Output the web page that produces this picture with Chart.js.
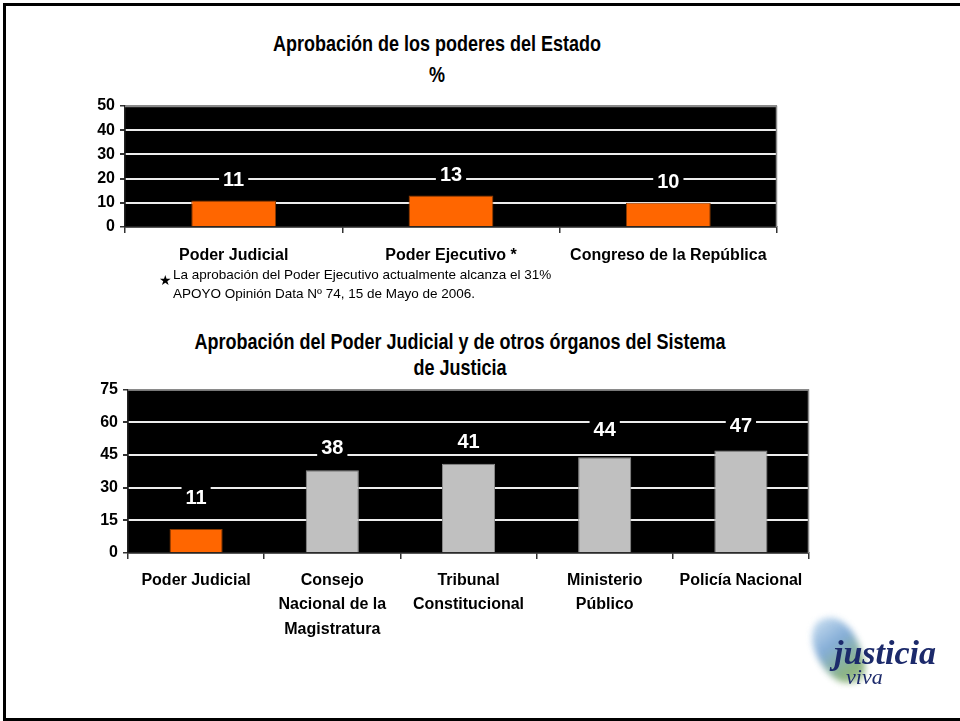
<!DOCTYPE html>
<html>
<head>
<meta charset="utf-8">
<script src="https://cdn.jsdelivr.net/npm/chart.js@4.4.0/dist/chart.umd.min.js"></script>
<style>
  html, body { margin: 0; padding: 0; background: #fff; }
  body { width: 960px; height: 721px; position: relative; overflow: hidden; }
  .bold { font-family: 'Liberation Sans', Arial, sans-serif; font-weight: bold; color: #000; }
  .frame { position: absolute; left: 3px; top: 3px; width: 957px; height: 712px; border: 3px solid #000; box-sizing: content-box; border-right: none; }
  .t { position: absolute; text-align: center; white-space: nowrap; line-height: 20px; transform: scale(1, 1.18); }
  .note { position: absolute; font-family: 'Liberation Sans', Arial, sans-serif; font-size: 13.5px; color: #000; line-height: 19px; }
  canvas { position: absolute; }
</style>
</head>
<body>
<div class="frame"></div>

<div class="t bold" id="title1a" style="left:237px; width:400px; top:34px; font-size:18px;"></div>
<div class="t bold" id="title1b" style="left:237px; width:400px; top:65px; font-size:18px;"></div>

<canvas id="c1" width="740" height="185" style="left:60px; top:90px;"></canvas>

<div class="note" style="left:159px; top:265px;"><span style="font-size:14px; position:absolute; left:0; top:6px;">&#9733;</span><div id="note" style="margin-left:14px;"></div></div>

<div class="t bold" id="title2a" style="left:160px; width:600px; top:332px; font-size:18px;"></div>
<div class="t bold" id="title2b" style="left:160px; width:600px; top:358px; font-size:18px;"></div>

<canvas id="c2" width="780" height="290" style="left:60px; top:375px;"></canvas>

<!-- logo -->
<div style="position:absolute; left:806px; top:612px; width:150px; height:85px;">
  <div style="position:absolute; left:10px; top:4px; width:44px; height:70px; border-radius:40% 60% 30% 70%; background: linear-gradient(160deg, #c4dcf0 0%, #6f9fd0 40%, #7aa86a 80%, #a4c498 100%); filter: blur(3px); transform: rotate(-18deg); opacity:0.85;"></div>
  <div style="position:absolute; left:28px; top:24px; font-family:'Liberation Serif','DejaVu Serif',serif; font-style:italic; font-weight:bold; font-size:34px; color:#1c2a6b; line-height:34px;">justicia</div>
  <div style="position:absolute; left:40px; top:54px; font-family:'Liberation Serif','DejaVu Serif',serif; font-style:italic; font-size:22px; color:#1c2a6b; line-height:22px;">viva</div>
</div>

<script>
// ---------- data ----------
const titleTop = 'Aprobación de los poderes del Estado';
const subtitleTop = '%';
const catsTop = ['Poder Judicial', 'Poder Ejecutivo *', 'Congreso de la República'];
const valsTop = [11, 13, 10];
const ticksTop = [0, 10, 20, 30, 40, 50];

const noteLines = ['La aprobación del Poder Ejecutivo actualmente alcanza el 31%',
                   'APOYO Opinión Data Nº 74, 15 de Mayo de 2006.'];

const titleBottom = ['Aprobación del Poder Judicial y de otros órganos del Sistema', 'de Justicia'];
const catsBottom = ['Poder Judicial', ['Consejo', 'Nacional de la', 'Magistratura'],
                    ['Tribunal', 'Constitucional'], ['Ministerio', 'Público'], 'Policía Nacional'];
const valsBottom = [11, 38, 41, 44, 47];
const ticksBottom = [0, 15, 30, 45, 60, 75];

// ---------- text ----------
document.getElementById('title1a').textContent = titleTop;
document.getElementById('title1b').textContent = subtitleTop;
document.getElementById('note').innerHTML = noteLines.join('<br>');
document.getElementById('title2a').textContent = titleBottom[0];
document.getElementById('title2b').textContent = titleBottom[1];

// ---------- styles ----------
const FONT = "'Liberation Sans', Arial, sans-serif";
const ORANGE = '#FF6600', ORANGE_B = '#8a3a00';
const GRAY = '#C0C0C0', GRAY_B = '#8c8c8c';

const plotBg = {
  id: 'plotBg',
  beforeDraw(chart) {
    const { ctx, chartArea: a } = chart;
    ctx.save();
    ctx.fillStyle = '#000';
    ctx.fillRect(a.left, a.top, a.right - a.left, a.bottom - a.top);
    ctx.restore();
  },
  afterDraw(chart) {
    const { ctx, chartArea: a } = chart;
    ctx.save();
    ctx.strokeStyle = '#8a8a8a';
    ctx.lineWidth = 1.5;
    ctx.beginPath();
    ctx.moveTo(a.left, a.top + 0.5);
    ctx.lineTo(a.right - 0.5, a.top + 0.5);
    ctx.lineTo(a.right - 0.5, a.bottom);
    ctx.stroke();
    ctx.restore();
  }
};

const valueLabels = {
  id: 'valueLabels',
  afterDatasetsDraw(chart, args, opts) {
    const { ctx } = chart;
    const meta = chart.getDatasetMeta(0);
    const data = chart.data.datasets[0].data;
    ctx.save();
    ctx.font = 'bold ' + opts.size + 'px ' + FONT;
    ctx.textAlign = 'center';
    ctx.textBaseline = 'middle';
    meta.data.forEach((bar, i) => {
      const txt = String(data[i]);
      const off = Array.isArray(opts.offset) ? opts.offset[i] : opts.offset;
      const y = bar.y - off;
      const w = ctx.measureText(txt).width + 8;
      const h = opts.size + 2;
      ctx.fillStyle = '#000';
      ctx.fillRect(bar.x - w / 2, y - h / 2, w, h);
      ctx.fillStyle = '#fff';
      ctx.fillText(txt, bar.x, y + 1);
    });
    ctx.restore();
  }
};

function makeChart(id, cats, vals, ticks, colors, borders, layout, labelOpts) {
  const max = ticks[ticks.length - 1];
  const step = ticks[1] - ticks[0];
  return new Chart(document.getElementById(id), {
    type: 'bar',
    data: {
      labels: cats,
      datasets: [{
        data: vals,
        backgroundColor: colors,
        borderColor: borders,
        borderWidth: 1,
        borderSkipped: 'bottom',
        categoryPercentage: 1,
        barPercentage: 0.39
      }]
    },
    options: {
      responsive: false,
      animation: false,
      devicePixelRatio: 1,
      layout: { padding: layout.padding },
      plugins: {
        legend: { display: false },
        tooltip: { enabled: false },
        title: { display: false },
        valueLabels: labelOpts
      },
      scales: {
        x: {
          grid: { display: true, drawOnChartArea: false, drawTicks: true, tickLength: 6, tickColor: '#333', offset: true, lineWidth: 1.5 },
          border: { display: true, color: '#222', width: 1.5 },
          ticks: {
            color: '#000',
            padding: layout.xPad,
            maxRotation: 0, autoSkip: false,
            font: { family: FONT, weight: 'bold', size: layout.xFont, lineHeight: layout.xLine }
          },
          afterFit(s) { s.height = layout.xHeight; }
        },
        y: {
          min: 0, max: max,
          afterBuildTicks(s) { s.ticks = ticks.map(v => ({ value: v })); },
          ticks: {
            autoSkip: false,
            color: '#000',
            padding: 5,
            font: { family: FONT, weight: 'bold', size: layout.yFont }
          },
          grid: {
            color: c => c.tick.value === 0 ? '#222' : (c.tick.value === max ? '#8a8a8a' : '#ececec'),
            lineWidth: c => c.tick.value === 0 || c.tick.value === max ? 1.5 : 2,
            tickColor: '#333',
            tickLength: 5
          },
          border: { display: true, color: '#222', width: 1.5 },
          afterFit(s) { s.width = layout.yWidth; }
        }
      }
    },
    plugins: [plotBg, valueLabels]
  });
}

makeChart('c1', catsTop, valsTop, ticksTop,
  valsTop.map(() => ORANGE), valsTop.map(() => ORANGE_B),
  { padding: { left: 0, top: 16, right: 23, bottom: 0 }, yWidth: 65, xHeight: 48, xPad: 13, xFont: 16, xLine: 1.2, yFont: 16 },
  { size: 20, offset: 21 });

makeChart('c2', catsBottom, valsBottom, ticksBottom,
  valsBottom.map((v, i) => i === 0 ? ORANGE : GRAY), valsBottom.map((v, i) => i === 0 ? ORANGE_B : GRAY_B),
  { padding: { left: 0, top: 12, right: 31, bottom: 0 }, yWidth: 68, xHeight: 112, xPad: 9, xFont: 16, xLine: 1.53, yFont: 16 },
  { size: 20, offset: [32, 23, 22, 28, 25] });
</script>
</body>
</html>
